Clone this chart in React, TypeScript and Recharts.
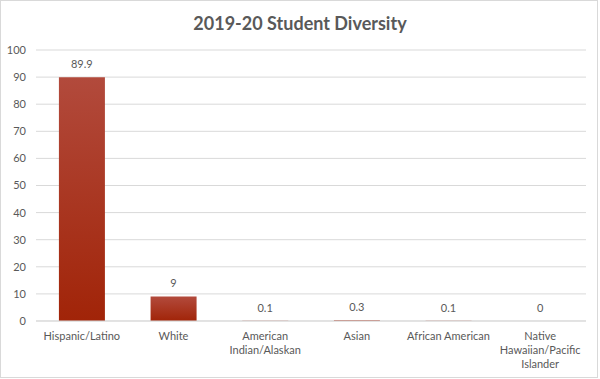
import React from "react";
import { ComposedChart, Bar, Line, XAxis, YAxis, CartesianGrid, LabelList } from "recharts";

const categories = [
  "Hispanic/Latino",
  "White",
  "American\nIndian/Alaskan",
  "Asian",
  "African American",
  "Native\nHawaiian/Pacific\nIslander",
];
const percentages = [89.9, 9, 0.1, 0.3, 0.1, 0];
const yTicks = [0, 10, 20, 30, 40, 50, 60, 70, 80, 90, 100];
const title = "2019-20 Student Diversity";

const data = categories.map((c, i) => ({ name: c, value: percentages[i] }));

const FONT = "Lato, 'Open Sans', sans-serif";
const TEXT = "#595959";

const XTick = (props: any) => {
  const { x, y, payload } = props;
  const lines = String(payload.value).split("\n");
  return (
    <g transform={`translate(${x},${y})`}>
      {lines.map((l: string, i: number) => (
        <text
          key={i}
          x={0}
          y={8 + i * 14}
          textAnchor="middle"
          fill={TEXT}
          fontSize={11}
          fontFamily={FONT}
          dominantBaseline="middle"
        >
          {l}
        </text>
      ))}
    </g>
  );
};

const ValueLabel = (props: any) => {
  const { x, y, value } = props;
  return (
    <text
      x={Number(x)}
      y={Number(y) - 12}
      textAnchor="middle"
      dominantBaseline="middle"
      fill={TEXT}
      fontSize={11}
      fontFamily={FONT}
    >
      {value}
    </text>
  );
};

export default function App() {
  return (
    <div style={{ position: "absolute", left: 0, top: 0, width: 600, height: 379, background: "#fff" }}>
      <div
        style={{
          position: "absolute",
          left: 0,
          top: 0,
          width: 598,
          height: 378,
          border: "1px solid #d9d9d9",
          boxSizing: "border-box",
        }}
      />
      <div
        style={{
          position: "absolute",
          left: 0,
          top: 12,
          width: 600,
          textAlign: "center",
          fontFamily: FONT,
          fontWeight: 700,
          fontSize: 18,
          color: TEXT,
        }}
      >
        {title}
      </div>
      <div style={{ position: "absolute", left: 0, top: 0 }}>
        <ComposedChart
          width={600}
          height={379}
          data={data}
          margin={{ top: 50, right: 14, bottom: 0, left: 0 }}
          barCategoryGap="25%"
        >
          <defs>
            <linearGradient id="barGrad" x1="0" y1="0" x2="0" y2="1">
              <stop offset="0%" stopColor="#B24A3C" />
              <stop offset="100%" stopColor="#A12408" />
            </linearGradient>
          </defs>
          <CartesianGrid vertical={false} stroke="#d9d9d9" strokeWidth={1} />
          <XAxis
            dataKey="name"
            height={58}
            axisLine={{ stroke: "#d9d9d9" }}
            tickLine={false}
            tick={<XTick />}
            interval={0}
          />
          <YAxis
            width={36}
            domain={[0, 100]}
            ticks={yTicks}
            axisLine={false}
            tickLine={false}
            tick={{ fill: TEXT, fontSize: 11, fontFamily: FONT }}
            tickMargin={4}
          />
          <Bar dataKey="value" fill="url(#barGrad)" isAnimationActive={false} />
          <Line
            dataKey="value"
            stroke="none"
            dot={false}
            activeDot={false}
            isAnimationActive={false}
            legendType="none"
          >
            <LabelList dataKey="value" content={<ValueLabel />} />
          </Line>
        </ComposedChart>
      </div>
    </div>
  );
}
